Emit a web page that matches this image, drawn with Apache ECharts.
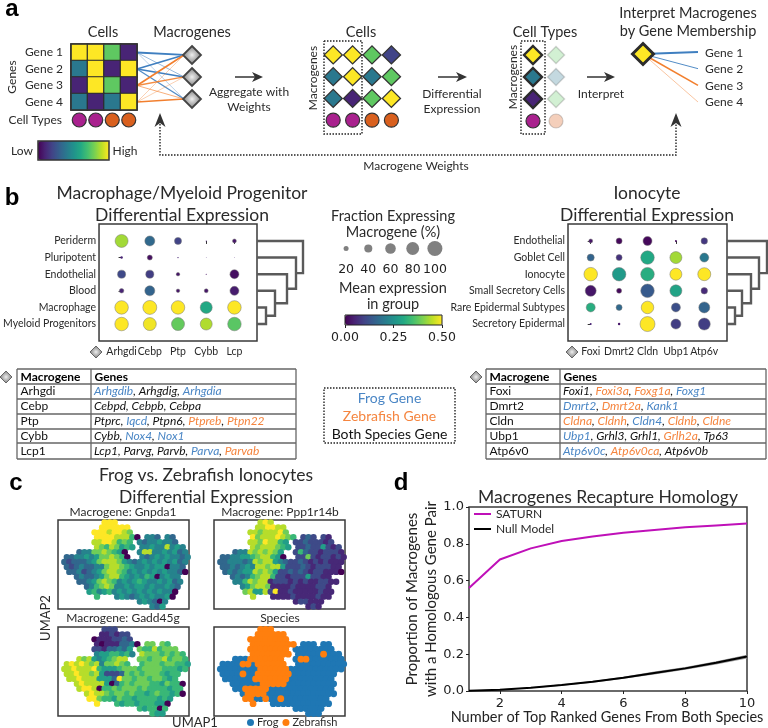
<!DOCTYPE html>
<html>
<head>
<meta charset="utf-8">
<style>html,body{margin:0;padding:0;background:#fff}#main{width:768px;height:728px}</style>
<script src="https://cdn.jsdelivr.net/npm/echarts@6/dist/echarts.min.js"></script>
</head>
<body>
<div id="main"></div>
<script>
// panel a
var geneNames = ['Gene 1', 'Gene 2', 'Gene 3', 'Gene 4'];
var geneCells = [[1, 1, 0.75, 0.1], [0.4, 1, 0.1, 1], [0.1, 1, 0.75, 0.1], [0.4, 0.1, 0.4, 1]];
var cellTypeColors = ['#a9218e', '#a9218e', '#d9601e', '#d9601e'];
var macroCells = [[1, 1, 0.75, 0.2], [0.4, 1, 0.4, 0.75], [0.4, 0.1, 0.75, 1]];
var macroCellTypes = [[1, 0.75], [0.4, 0.4], [0.1, 0.75]];
var macroRows = [0.15, 1.48, 2.82];
// gene, macrogene, line width, opacity
var geneLinks = [
  [0, 0, 1.8, 1], [0, 1, 0.9, 0.6], [0, 2, 0.8, 0.45],
  [1, 0, 1.6, 1], [1, 1, 1.6, 1], [1, 2, 1.3, 0.9],
  [2, 0, 1.6, 1], [2, 1, 1.3, 0.9], [2, 2, 0.9, 0.7],
  [3, 0, 0.8, 0.45], [3, 1, 0.8, 0.45], [3, 2, 1.6, 1]
];
var memberWidths = [2, 1, 1.6, 0.9];
var memberOpacity = [1, 0.9, 1, 0.5];

// panel b
var leftGroups = ['Periderm', 'Pluripotent', 'Endothelial', 'Blood', 'Macrophage', 'Myeloid Progenitors'];
var leftMacro = ['Arhgdi', 'Cebp', 'Ptp', 'Cybb', 'Lcp'];
var leftFrac = [[81, 55, 33, 2, 14], [7, 20, 3, 1, 1], [40, 40, 12, 2, 47], [17, 55, 12, 14, 47], [86, 90, 86, 72, 86], [86, 81, 81, 72, 86]];
var leftMean = [[0.43, 0.17, 0.1, 0.05, 0.03], [0.05, 0.02, 0.05, 0.05, 0.05], [0.11, 0.09, 0.03, 0.02, 0.02], [0.05, 0.16, 0.03, 0.03, 0.04], [0.5, 0.5, 0.5, 0.3, 0.5], [0.5, 0.49, 0.38, 0.44, 0.37]];
var rightGroups = ['Endothelial', 'Goblet Cell', 'Ionocyte', 'Small Secretory Cells', 'Rare Epidermal Subtypes', 'Secretory Epidermal'];
var rightMacro = ['Foxi', 'Dmrt2', 'Cldn', 'Ubp1', 'Atp6v'];
var rightFrac = [[14, 26, 47, 5, 29], [33, 26, 86, 72, 47], [86, 86, 86, 72, 81], [63, 20, 86, 72, 29], [47, 26, 77, 47, 63], [5, 7, 100, 55, 72]];
var rightMean = [[0.03, 0.01, 0.01, 0.02, 0.08], [0.16, 0.07, 0.3, 0.43, 0.2], [0.5, 0.27, 0.31, 0.5, 0.5], [0.03, 0.01, 0.14, 0.29, 0.06], [0.31, 0.17, 0.5, 0.12, 0.16], [0.05, 0.03, 0.5, 0.09, 0.09]];
var leftDendro = [9, 18, 30, 39, 46];
var rightDendro = [8, 15, 24, 32, 40];
var sizeTicks = [20, 40, 60, 80, 100];

// f frog, z zebrafish, b both
var leftTable = [
  ['Arhgdi', [['Arhgdib', 'f'], ['Arhgdig', 'b'], ['Arhgdia', 'f']]],
  ['Cebp', [['Cebpd', 'b'], ['Cebpb', 'b'], ['Cebpa', 'b']]],
  ['Ptp', [['Ptprc', 'b'], ['Iqcd', 'f'], ['Ptpn6', 'b'], ['Ptpreb', 'z'], ['Ptpn22', 'z']]],
  ['Cybb', [['Cybb', 'b'], ['Nox4', 'f'], ['Nox1', 'f']]],
  ['Lcp1', [['Lcp1', 'b'], ['Parvg', 'b'], ['Parvb', 'b'], ['Parva', 'f'], ['Parvab', 'z']]]
];
var rightTable = [
  ['Foxi', [['Foxi1', 'b'], ['Foxi3a', 'z'], ['Foxg1a', 'z'], ['Foxg1', 'f']]],
  ['Dmrt2', [['Dmrt2', 'f'], ['Dmrt2a', 'z'], ['Kank1', 'f']]],
  ['Cldn', [['Cldna', 'z'], ['Cldnh', 'z'], ['Cldn4', 'f'], ['Cldnb', 'z'], ['Cldne', 'z']]],
  ['Ubp1', [['Ubp1', 'f'], ['Grhl3', 'b'], ['Grhl1', 'b'], ['Grlh2a', 'z'], ['Tp63', 'b']]],
  ['Atp6v0', [['Atp6v0c', 'f'], ['Atp6v0ca', 'z'], ['Atp6v0b', 'b']]]
];

// panel c, one character per cell of the UMAP, digit = colour level
var speciesMap = [
  '         zzz              ',
  '        zzzzzz            ',
  '       zzzzzzzz           ',
  '       zzzzzzzzz fff ff   ',
  '       zzzzzzzz ffffffff  ',
  '       zzzzzzzz fffffzfff ',
  '    fffzzzzzzz  fzzfffffff',
  ' ffffzzfzzzzzz  ffffffffff',
  ' ffffffffzzzzzzfffffffffff',
  ' ffffzffzzzzzzzfffffffff  ',
  '  ffffffzzzzzzzfffffffff  ',
  '   ffffffzzzzzffffffffff  ',
  '    ffzzzzzfffffffffffff  ',
  '     fzzzzffffffffffffff  ',
  '      zzffzffzfffffffff   ',
  '       z   ffffffffffff   ',
  '                ffffff    ',
  '                  fff     '
];
var gnpdaMap = [
  '         999              ',
  '        999999            ',
  '       99989987           ',
  '       999988860 443 43   ',
  '       88998676 43445443  ',
  '       87687565 445448454 ',
  '    3447787650  4884454534',
  ' 3344545778760  4345454434',
  ' 3233345788875434545454534',
  ' 323433447887654454550443 ',
  '  334234578876454545454430',
  '   343345788654546504544  ',
  '    334578764545654454534 ',
  '     3467874454554544543  ',
  '      564564545454545440  ',
  '       6   454345454450   ',
  '                454304    ',
  '                  435     '
];
var ppp1Map = [
  '         898              ',
  '        889988            ',
  '       88788897           ',
  '       978889876 232 21   ',
  '       88798865 22322212  ',
  '       87888765 223225212 ',
  '    3448787875  2632212221',
  ' 3344556788650  2272122121',
  ' 3344434878854322321212111',
  ' 334345488788522232122211 ',
  '  343455878752232321221110',
  '   34346788622122252211   ',
  '    446878812221212112211 ',
  '     457887111121111221   ',
  '      785582911211111211  ',
  '       8   111121111211   ',
  '                122111    ',
  '                  121     '
];
var gaddMap = [
  '         222              ',
  '        112122            ',
  '       01112232           ',
  '       101113340 77 76    ',
  '       22133435 76686777  ',
  '       45566564 877767676 ',
  '    8785456788  7767786776',
  ' 8989878477876  6777677665',
  ' 8898889655567776777766656',
  ' 88988785222376767776566  ',
  '  8898885553977677677656  ',
  '   8988885036767776657660 ',
  '    899806676777676666566 ',
  '     89887677676656766560 ',
  '      99766576656666565   ',
  '       9   65665666550    ',
  '                656606    ',
  '                  655     '
];

// panel d
var topGenes = [1, 2, 3, 4, 5, 6, 7, 8, 9, 10];
var saturn = [0.56, 0.715, 0.775, 0.815, 0.84, 0.86, 0.875, 0.89, 0.9, 0.91];
var nullModel = [0.002, 0.007, 0.018, 0.033, 0.05, 0.072, 0.098, 0.123, 0.153, 0.187];
var nullLower = [0.001, 0.005, 0.015, 0.029, 0.045, 0.066, 0.09, 0.115, 0.144, 0.177];
var nullUpper = [0.003, 0.009, 0.021, 0.037, 0.055, 0.078, 0.106, 0.131, 0.162, 0.197];

var viridis = ['#440154', '#482475', '#414487', '#355f8d', '#2a788e', '#21918c', '#22a884', '#44bf70', '#7ad151', '#bddf26', '#fde725'];
var FROG = '#4a86c5', ZEBRA = '#f5853f', BOTH = '#111';
var FONT = 'Lato', INK = '#2a2a2a', FRAME = '#3a3a3a';
var grayDiamond = {
  type: 'radial', x: 0.5, y: 0.5, r: 0.5,
  colorStops: [{ offset: 0, color: '#efefef' }, { offset: 1, color: '#777' }]
};

var grids = [], xAxes = [], yAxes = [], series = [], graphic = [];
var schematicSeries = [], dotSeries = [], umapSeries = [];

function addGrid(box, xAxis, yAxis, frame) {
  box.containLabel = false;
  if (frame) {
    box.show = true;
    box.borderColor = FRAME;
    box.borderWidth = 1.5;
    box.backgroundColor = '#fff';
  }
  grids.push(box);
  xAxis.gridIndex = yAxis.gridIndex = grids.length - 1;
  xAxes.push(xAxis);
  yAxes.push(yAxis);
  return grids.length - 1;
}
function hiddenCat(names, inverse) {
  return { type: 'category', show: false, data: names, inverse: !!inverse };
}
function hiddenVal(min, max, inverse) {
  return { type: 'value', show: false, min: min, max: max, inverse: !!inverse, splitLine: { show: false } };
}
function addSeries(s, group) {
  series.push(s);
  if (group) group.push(series.length - 1);
}
function text(str, x, y, size, opt) {
  opt = opt || {};
  graphic.push({
    type: 'text', x: x, y: y, z: 20, rotation: opt.rotation || 0, silent: true,
    style: {
      text: str, fill: opt.fill || INK, align: opt.align || 'center', verticalAlign: 'middle',
      font: (opt.weight || 'normal') + ' ' + size + 'px ' + (opt.family || FONT)
    }
  });
}
function dotted(points) {
  graphic.push({
    type: 'polyline', z: 15, silent: true, shape: { points: points },
    style: { stroke: '#222', lineWidth: 1.4, lineDash: [1.5, 1.5], fill: null }
  });
}
function arrow(x1, y, x2) {
  graphic.push({ type: 'line', z: 15, shape: { x1: x1, y1: y, x2: x2 - 6, y2: y }, style: { stroke: '#333', lineWidth: 1.5 } });
  graphic.push({
    type: 'polygon', z: 15,
    shape: { points: [[x2, y], [x2 - 11, y - 5], [x2 - 8, y], [x2 - 11, y + 5]] }, style: { fill: '#333' }
  });
}
function arrowUp(x, y) {
  graphic.push({
    type: 'polygon', z: 15,
    shape: { points: [[x, y], [x - 5.5, y + 14], [x, y + 10], [x + 5.5, y + 14]] }, style: { fill: '#333' }
  });
}
function smallDiamond(x, y) {
  graphic.push({
    type: 'polygon', z: 15,
    shape: { points: [[x, y - 6], [x + 6, y], [x, y + 6], [x - 6, y]] },
    style: { fill: grayDiamond, stroke: '#666', lineWidth: 1 }
  });
}

// ---- panel a ----
var g = addGrid({ left: 71, top: 44, width: 66, height: 66 },
  { type: 'category', data: ['1', '2', '3', '4'], show: false },
  { type: 'category', data: geneNames, inverse: true, axisLine: { show: false }, axisTick: { show: false }, axisLabel: { margin: 8, color: INK, fontFamily: FONT, fontSize: 12 } });
var heat = [];
geneCells.forEach(function (row, r) { row.forEach(function (v, c) { heat.push([c, r, v]); }); });
addSeries({
  type: 'heatmap', xAxisIndex: g, yAxisIndex: g, data: heat,
  itemStyle: { borderColor: '#2c2c2c', borderWidth: 1.2 }
}, schematicSeries);

g = addGrid({ left: 71, top: 113, width: 66, height: 14 }, hiddenCat(['1', '2', '3', '4']), hiddenCat(['t']));
addSeries({
  type: 'scatter', xAxisIndex: g, yAxisIndex: g, symbolSize: 14, clip: false,
  data: cellTypeColors.map(function (c, i) { return { value: [i, 0], itemStyle: { color: c, opacity: 1, borderColor: '#333', borderWidth: 1.2 } }; })
});

// gene to macrogene weights
g = addGrid({ left: 137, top: 52.5, width: 47, height: 49.5 }, { type: 'category', show: false, boundaryGap: false, data: ['g', 'm'] }, hiddenVal(0, 3, true));
geneLinks.forEach(function (l) {
  addSeries({
    type: 'line', xAxisIndex: g, yAxisIndex: g, symbol: 'none', silent: true, clip: false, z: 1,
    data: [[0, l[0]], [1, macroRows[l[1]]]],
    lineStyle: { color: l[0] < 2 ? '#3f7fc0' : '#f27f2e', width: l[2], opacity: l[3] }
  });
});
g = addGrid({ left: 175, top: 44, width: 34, height: 66 }, hiddenCat(['m']), hiddenCat(['1', '2', '3'], true));
addSeries({
  type: 'scatter', xAxisIndex: g, yAxisIndex: g, symbol: 'diamond', symbolSize: 18, z: 3, clip: false,
  data: [[0, 0], [0, 1], [0, 2]],
  itemStyle: { color: grayDiamond, opacity: 1, borderColor: '#444', borderWidth: 1.8 }
});

// cells by macrogene
g = addGrid({ left: 323.5, top: 44, width: 77.6, height: 87 }, hiddenCat(['1', '2', '3', '4']), hiddenCat(['1', '2', '3', 't'], true));
var cellDiamonds = [];
macroCells.forEach(function (row, r) { row.forEach(function (v, c) { cellDiamonds.push([c, r, v]); }); });
addSeries({
  type: 'scatter', xAxisIndex: g, yAxisIndex: g, symbol: 'diamond', symbolSize: 18, data: cellDiamonds, clip: false,
  itemStyle: { opacity: 1, borderColor: '#333', borderWidth: 1.4 }
}, schematicSeries);
addSeries({
  type: 'scatter', xAxisIndex: g, yAxisIndex: g, symbolSize: 14, clip: false,
  data: cellTypeColors.map(function (c, i) { return { value: [i, 3], itemStyle: { color: c, opacity: 1, borderColor: '#333', borderWidth: 1.2 } }; })
});

// cell types by macrogene
g = addGrid({ left: 521.5, top: 44, width: 46, height: 88 }, hiddenCat(['a', 'b']), hiddenCat(['1', '2', '3', 't'], true));
var typeDiamonds = [];
macroCellTypes.forEach(function (row, r) {
  typeDiamonds.push({ value: [0, r, row[0]], symbolSize: 18, itemStyle: { opacity: 1, borderColor: '#2c2c2c', borderWidth: 2.4 } });
  typeDiamonds.push({ value: [1, r, row[1]], symbolSize: 17, itemStyle: { opacity: 0.28, borderColor: '#666', borderWidth: 1.5 } });
});
addSeries({ type: 'scatter', xAxisIndex: g, yAxisIndex: g, symbol: 'diamond', clip: false, data: typeDiamonds }, schematicSeries);
addSeries({
  type: 'scatter', xAxisIndex: g, yAxisIndex: g, symbolSize: 14, clip: false,
  data: [
    { value: [0, 3], itemStyle: { color: '#a9218e', opacity: 1, borderColor: '#333', borderWidth: 1.2 } },
    { value: [1, 3], itemStyle: { color: '#d9601e', opacity: 0.3, borderColor: '#666', borderWidth: 1.2 } }
  ]
});

// macrogene membership
g = addGrid({ left: 643, top: 52, width: 55, height: 50 }, { type: 'category', show: false, boundaryGap: false, data: ['m', 'g'] }, hiddenVal(0, 3, true));
memberWidths.forEach(function (w, i) {
  addSeries({
    type: 'line', xAxisIndex: g, yAxisIndex: g, symbol: 'none', silent: true, clip: false, z: 1,
    data: [[0, 0.12], [1, i]],
    lineStyle: { color: i < 2 ? '#3f7fc0' : '#f27f2e', width: w, opacity: memberOpacity[i] }
  });
});
addSeries({
  type: 'scatter', xAxisIndex: g, yAxisIndex: g, symbol: 'diamond', symbolSize: 21, z: 3, clip: false,
  data: [[0, 0.12, 1]], itemStyle: { opacity: 1, borderColor: '#2c2c2c', borderWidth: 3 }
}, schematicSeries);

text('a', 12, 9, 24, { weight: 'bold', family: '"Liberation Sans"', fill: '#000' });
text('Cells', 103, 32, 14.5);
text('Macrogenes', 192, 32, 14.5);
text('Cells', 361, 32, 14.5);
text('Cell Types', 545, 32, 14.5);
text('Interpret Macrogenes', 688, 13, 14.5);
text('by Gene Membership', 688, 31, 14.5);
text('Genes', 12, 77, 12, { rotation: Math.PI / 2 });
text('Cell Types', 62, 120, 12, { align: 'right' });
text('Low', 22, 151, 12);
text('High', 125, 151, 12);
text('Macrogenes', 313, 78, 12, { rotation: Math.PI / 2 });
text('Macrogenes', 513, 77, 12, { rotation: Math.PI / 2 });
text('Aggregate with', 249, 92, 12);
text('Weights', 249, 107, 12);
text('Differential', 452, 94, 12);
text('Expression', 452, 109, 12);
text('Interpret', 601, 94, 12);
text('Macrogene Weights', 416, 166, 12);
geneNames.forEach(function (n, i) { text(n, 705, 53 + i * 16.5, 12, { align: 'left' }); });
arrow(235, 77, 263);
arrow(438, 77, 467);
arrow(587, 77, 615);
dotted([[324, 41], [362, 41], [362, 134], [324, 134], [324, 41]]);
dotted([[521, 41], [545, 41], [545, 134], [521, 134], [521, 41]]);
dotted([[160, 124], [160, 155], [676, 155], [676, 124]]);
arrowUp(160, 113);
arrowUp(676, 113);
graphic.push({ type: 'rect', z: 15, shape: { x: 38, y: 141, width: 71, height: 19 }, style: { fill: null, stroke: '#333', lineWidth: 1.5 } });
graphic.push({ type: 'rect', z: 15, shape: { x: 71, y: 44, width: 66, height: 66 }, style: { fill: null, stroke: '#333', lineWidth: 1.5 } });

// ---- panel b ----
function dotSize(pct) { return 15 * Math.pow(pct / 100, 0.68); }

function dotPlot(box, groups, macros, frac, mean) {
  var idx = addGrid(box, {
    type: 'value', min: -0.8, max: 4.8, splitLine: { show: false }, axisLine: { show: false },
    axisTick: { length: 3, customValues: [0, 1, 2, 3, 4], lineStyle: { color: '#333' } },
    axisLabel: {
      customValues: [0, 1, 2, 3, 4], margin: 5, color: INK, fontFamily: FONT, fontSize: 10.5, showMinLabel: true, showMaxLabel: true,
      formatter: function (v) { return macros[v]; }
    }
  }, {
    type: 'value', min: -1.02, max: 6.02, inverse: true, splitLine: { show: false }, axisLine: { show: false },
    axisTick: { length: 3, customValues: [0, 1, 2, 3, 4, 5], lineStyle: { color: '#333' } },
    axisLabel: {
      customValues: [0, 1, 2, 3, 4, 5], margin: 3, color: INK, fontFamily: FONT, fontSize: 10.5, showMinLabel: true, showMaxLabel: true,
      formatter: function (v) { return groups[v]; }
    }
  }, true);
  var pts = [];
  groups.forEach(function (name, r) {
    macros.forEach(function (m, c) {
      var item = { value: [c, r, mean[r][c], frac[r][c]] };
      // no outline on the tiniest dots
      if (frac[r][c] < 10) item.itemStyle = { borderWidth: 0, opacity: 1 };
      pts.push(item);
    });
  });
  addSeries({
    type: 'scatter', xAxisIndex: idx, yAxisIndex: idx, data: pts, clip: false,
    symbolSize: function (d) { return dotSize(d[3]); },
    itemStyle: { borderColor: '#777', borderWidth: 0.5, opacity: 1 }
  }, dotSeries);
}
function dendrogram(box, heights) {
  var idx = addGrid(box, hiddenVal(0, box.width), hiddenVal(-1.02, 6.02, true));
  var lowY = 5, lowX = 0;
  heights.forEach(function (h, i) {
    var upY = 4 - i;
    addSeries({
      type: 'line', xAxisIndex: idx, yAxisIndex: idx, symbol: 'none', silent: true, clip: false,
      data: [[0, upY], [h, upY], [h, lowY], [lowX, lowY]],
      lineStyle: { color: '#5a5a5a', width: 2.4, join: 'miter' }
    });
    lowY = (upY + lowY) / 2;
    lowX = h;
  });
}
dotPlot({ left: 99, top: 224, width: 158, height: 117 }, leftGroups, leftMacro, leftFrac, leftMean);
dotPlot({ left: 568, top: 224, width: 159, height: 117 }, rightGroups, rightMacro, rightFrac, rightMean);
dendrogram({ left: 257, top: 224, width: 46, height: 117 }, leftDendro);
dendrogram({ left: 727, top: 224, width: 40, height: 117 }, rightDendro);

// dot size legend
g = addGrid({ left: 335, top: 240, width: 111, height: 17 }, {
  type: 'category', data: sizeTicks, axisLine: { show: false },
  axisTick: { alignWithLabel: true, length: 3, lineStyle: { color: '#222' } },
  axisLabel: { interval: 0, color: '#222', fontFamily: '"DejaVu Sans"', fontSize: 12.5, margin: 6 }
}, hiddenCat(['s']));
addSeries({
  type: 'scatter', xAxisIndex: g, yAxisIndex: g, clip: false,
  data: sizeTicks.map(function (p, i) { return [i, 0, p]; }),
  symbolSize: function (d) { return dotSize(d[2]); },
  itemStyle: { color: '#808080', opacity: 1 }
});
// colour bar axis, the bar itself is the visualMap
g = addGrid({ left: 345, top: 315, width: 97, height: 10 }, {
  type: 'value', min: 0, max: 0.5, interval: 0.25, splitLine: { show: false }, axisLine: { show: false },
  axisTick: { length: 3, lineStyle: { color: '#222' } },
  axisLabel: {
    color: '#222', fontFamily: '"DejaVu Sans"', fontSize: 12.5, margin: 6, showMinLabel: true, showMaxLabel: true,
    formatter: function (v) { return v.toFixed(2); }
  }
}, hiddenVal(0, 1));
graphic.push({ type: 'rect', z: 15, shape: { x: 345, y: 315, width: 97, height: 10 }, style: { fill: null, stroke: '#222', lineWidth: 1 } });

text('b', 12, 198, 24, { weight: 'bold', family: '"Liberation Sans"', fill: '#000' });
text('Macrophage/Myeloid Progenitor', 182, 193, 17.5);
text('Differential Expression', 182, 215, 17.5);
text('Ionocyte', 647, 193, 17.5);
text('Differential Expression', 647, 215, 17.5);
text('Fraction Expressing', 393, 216, 14.5);
text('Macrogene (%)', 393, 232, 14.5);
text('Mean expression', 393, 288, 14.5);
text('in group', 393, 304, 14.5);
smallDiamond(96, 352);
smallDiamond(572, 352);
smallDiamond(6, 377);
smallDiamond(476, 377);

// gene tables
function geneTable(x0, xSep, x1, rows) {
  var lineY = [369, 384, 399, 414, 429, 443, 459];
  var rich = {
    f: { fill: FROG, fontStyle: 'italic', fontFamily: FONT, fontSize: 12 },
    z: { fill: ZEBRA, fontStyle: 'italic', fontFamily: FONT, fontSize: 12 },
    b: { fill: BOTH, fontStyle: 'italic', fontFamily: FONT, fontSize: 12 }
  };
  lineY.forEach(function (y) {
    graphic.push({ type: 'line', z: 15, shape: { x1: x0, y1: y, x2: x1, y2: y }, style: { stroke: '#666', lineWidth: 1.3 } });
  });
  [x0, xSep, x1].forEach(function (x) {
    graphic.push({ type: 'line', z: 15, shape: { x1: x, y1: 369, x2: x, y2: 459 }, style: { stroke: '#666', lineWidth: 1.3 } });
  });
  text('Macrogene', x0 + 3.5, 377, 12, { weight: 'bold', align: 'left', fill: '#000' });
  text('Genes', xSep + 3.5, 377, 12, { weight: 'bold', align: 'left', fill: '#000' });
  rows.forEach(function (row, i) {
    var y = (lineY[i + 1] + lineY[i + 2]) / 2;
    text(row[0], x0 + 3.5, y, 12, { align: 'left', fill: '#111' });
    var parts = row[1].map(function (gene, j) {
      var comma = j < row[1].length - 1 ? '{b|, }' : '';
      return '{' + gene[1] + '|' + gene[0] + '}' + comma;
    });
    graphic.push({
      type: 'text', x: xSep + 3, y: y, z: 20, silent: true,
      style: { text: parts.join(''), rich: rich, align: 'left', verticalAlign: 'middle' }
    });
  });
}
geneTable(17, 91, 296, leftTable);
geneTable(486, 560, 766, rightTable);

dotted([[324, 388], [455, 388], [455, 443], [324, 443], [324, 388]]);
text('Frog Gene', 389.5, 398, 14, { fill: FROG });
text('Zebrafish Gene', 389.5, 416, 14, { fill: ZEBRA });
text('Both Species Gene', 389.5, 434, 14, { fill: BOTH });

// ---- panel c ----
function umapPoints(map) {
  var pts = [];
  map.forEach(function (row, r) {
    row.split('').forEach(function (ch, c) {
      if (ch !== ' ') pts.push([c + (r % 2 ? 0.75 : 0.25), r + 0.5, ch]);
    });
  });
  return pts;
}
function umapGrid(left, top) {
  return addGrid({ left: left, top: top, width: 131, height: 89 }, hiddenVal(0, 26), hiddenVal(0, 18, true), true);
}
function exprPanel(left, top, map) {
  var idx = umapGrid(left, top);
  addSeries({
    type: 'scatter', xAxisIndex: idx, yAxisIndex: idx, symbolSize: 6.4, itemStyle: { opacity: 1 },
    data: umapPoints(map).map(function (p) { return [p[0], p[1], +p[2]]; })
  }, umapSeries);
}
exprPanel(58, 520, gnpdaMap);
exprPanel(214, 520, ppp1Map);
exprPanel(58, 627, gaddMap);
g = umapGrid(214, 627);
var speciesPts = umapPoints(speciesMap);
addSeries({
  name: 'Frog', type: 'scatter', xAxisIndex: g, yAxisIndex: g, symbolSize: 6.8, itemStyle: { color: '#1f77b4', opacity: 1 },
  data: speciesPts.filter(function (p) { return p[2] === 'f'; }).map(function (p) { return [p[0], p[1]]; })
});
addSeries({
  name: 'Zebrafish', type: 'scatter', xAxisIndex: g, yAxisIndex: g, symbolSize: 6.8, itemStyle: { color: '#ff7f0e', opacity: 1 },
  data: speciesPts.filter(function (p) { return p[2] === 'z'; }).map(function (p) { return [p[0], p[1]]; })
});
text('c', 16, 483, 24, { weight: 'bold', family: '"Liberation Sans"', fill: '#000' });
text('Frog vs. Zebrafish Ionocytes', 206, 475, 17.5);
text('Differential Expression', 206, 497, 17.5);
text('Macrogene: Gnpda1', 123, 512, 12);
text('Macrogene: Ppp1r14b', 280, 512, 12);
text('Macrogene: Gadd45g', 123, 618, 12);
text('Species', 280, 618, 12);
text('UMAP2', 46, 618, 13, { rotation: Math.PI / 2 });
text('UMAP1', 195, 723, 13);

// ---- panel d ----
g = addGrid({ left: 469, top: 507, width: 278, height: 184 }, {
  type: 'value', min: 1, max: 10, splitLine: { show: false }, axisLine: { show: false },
  axisTick: { length: 3, customValues: [2, 4, 6, 8, 10], lineStyle: { color: '#222' } },
  axisLabel: { customValues: [2, 4, 6, 8, 10], margin: 6, color: '#222', fontFamily: '"DejaVu Sans"', fontSize: 13, showMaxLabel: true }
}, {
  type: 'value', min: 0, max: 1, interval: 0.2, splitLine: { show: false }, axisLine: { show: false },
  axisTick: { length: 3, lineStyle: { color: '#222' } },
  axisLabel: { margin: 5, color: '#222', fontFamily: '"DejaVu Sans"', fontSize: 13, showMinLabel: true, showMaxLabel: true, formatter: function (v) { return v.toFixed(1); } },
  name: 'Proportion of Macrogenes\nwith a Homologous Gene Pair', nameLocation: 'middle', nameGap: 28, nameMoveOverlap: false,
  nameTextStyle: { color: '#222', fontFamily: FONT, fontSize: 15, lineHeight: 19 }
}, true);
function pairs(values) { return values.map(function (v, i) { return [topGenes[i], v]; }); }
addSeries({
  name: 'SATURN', type: 'line', xAxisIndex: g, yAxisIndex: g, data: pairs(saturn), symbol: 'none',
  itemStyle: { color: '#bf10b8' }, lineStyle: { color: '#bf10b8', width: 2 }
});
// spread around the null model, as one polygon through the axis scales
addSeries({
  type: 'custom', xAxisIndex: g, yAxisIndex: g, silent: true, data: pairs(nullLower),
  renderItem: function (params, api) {
    if (params.dataIndex !== 0) return null;
    var pts = [];
    topGenes.forEach(function (x, i) { pts.push(api.coord([x, nullUpper[i]])); });
    for (var i = topGenes.length - 1; i >= 0; i--) pts.push(api.coord([topGenes[i], nullLower[i]]));
    return { type: 'polygon', shape: { points: pts }, style: { fill: '#999' } };
  }
});
addSeries({
  name: 'Null Model', type: 'line', xAxisIndex: g, yAxisIndex: g, data: pairs(nullModel), symbol: 'none',
  itemStyle: { color: '#000' }, lineStyle: { color: '#000', width: 2 }
});
text('d', 401, 483, 24, { weight: 'bold', family: '"Liberation Sans"', fill: '#000' });
text('Macrogenes Recapture Homology', 608, 497, 17.5);
text('Number of Top Ranked Genes From Both Species', 607, 717, 14.5, { fill: '#222' });

var chart = echarts.init(document.getElementById('main'));
chart.setOption({
  animation: false,
  backgroundColor: '#fff',
  grid: grids,
  xAxis: xAxes,
  yAxis: yAxes,
  series: series,
  graphic: graphic,
  legend: [
    {
      data: ['SATURN', 'Null Model'], orient: 'vertical', left: 474, top: 508, icon: 'rect', itemWidth: 17, itemHeight: 2, itemGap: 3, padding: 0,
      textStyle: { fontFamily: FONT, fontSize: 12, color: INK }, selectedMode: false
    },
    {
      data: ['Frog', 'Zebrafish'], left: 247, top: 717, itemWidth: 7, itemHeight: 7, itemGap: 4, icon: 'circle', padding: 0,
      textStyle: { fontFamily: FONT, fontSize: 11, color: INK, padding: [0, 0, 0, -2] }, selectedMode: false
    }
  ],
  visualMap: [
    {
      type: 'continuous', seriesIndex: schematicSeries, dimension: 2, min: 0, max: 1, inRange: { color: viridis },
      orient: 'horizontal', left: 38, top: 141, padding: 0, itemWidth: 19, itemHeight: 71, text: null, hoverLink: false
    },
    {
      type: 'continuous', seriesIndex: dotSeries, dimension: 2, min: 0, max: 0.5, inRange: { color: viridis },
      orient: 'horizontal', left: 345, top: 315, padding: 0, itemWidth: 10, itemHeight: 97, text: null, hoverLink: false
    },
    { type: 'continuous', show: false, seriesIndex: umapSeries, dimension: 2, min: 0, max: 9, inRange: { color: viridis } }
  ]
});
</script>
</body>
</html>
